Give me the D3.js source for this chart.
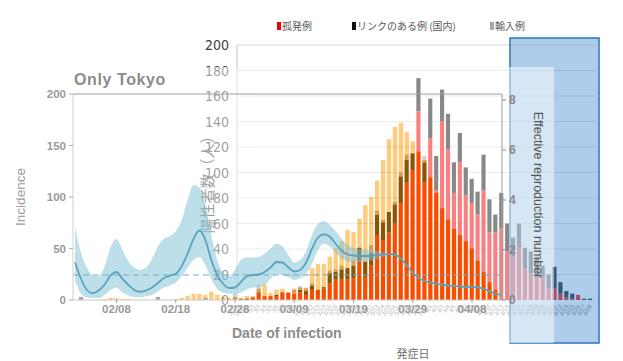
<!DOCTYPE html>
<html><head><meta charset="utf-8">
<script src="https://cdn.jsdelivr.net/npm/d3@7"></script>
<style>body{margin:0;background:#fff}svg{display:block}</style>
</head><body>
<svg id="c" width="623" height="361"></svg>
<script>
// ---------- Japan chart (発症日別 陽性者数) ----------
const jpDates = ["2/28","2/29","3/1","3/2","3/3","3/4","3/5","3/6","3/7","3/8","3/9","3/10","3/11","3/12","3/13","3/14","3/15","3/16","3/17","3/18","3/19","3/20","3/21","3/22","3/23","3/24","3/25","3/26","3/27","3/28","3/29","3/30","3/31","4/1","4/2","4/3","4/4","4/5","4/6","4/7","4/8","4/9","4/10","4/11","4/12","4/13","4/14","4/15","4/16","4/17","4/18","4/19","4/20","4/21","4/22","4/23","4/24","4/25","4/26","4/27","4/28"];
const jpSporadic = [0,1,0,2,5,3,3,3,6,6, 5,6,4,8,8,9,13,16,16,16, 17,31,18,27,51,47,53,60,76,92, 102,148,92,127,86,140,118,84,108,82, 76,67,86,53,53,56,38,34,41,25, 21,18,18,9,9,5,2,1,4,0, 0];
const jpLinked   = [0,0,1,0,1,0,0,1,0,0, 0,2,3,3,0,1,8,6,8,9, 10,10,12,10,16,14,16,15,21,18, 13,26,16,31,27,25,28,24,23,22, 19,18,28,26,14,28,22,15,19,16, 17,16,9,11,17,9,5,4,0,1, 1];
const jpImported = [5,0,0,0,6,0,0,0,0,0, 3,3,2,2,0,0,2,2,3,0, 4,0,0,6,3,2,0,2,3,4, 0,0,5,0,0,0,0,0,0,0, 0,0,0,0,0,0,0,0,0,0, 0,0,0,0,0,0,0,0,0,0, 0];
const jpYTicks = [0,20,40,60,80,100,120,140,160,180,200];
const jpLegend = ["孤発例","リンクのある例 (国内)","輸入例"];
const jpColors = ["#f20000","#111111","#a6a6a6"];

// ---------- Tokyo chart ----------
const tkDates = ["02/01","02/02","02/03","02/04","02/05","02/06","02/07","02/08","02/09","02/10","02/11","02/12","02/13","02/14","02/15","02/16","02/17","02/18","02/19","02/20","02/21","02/22","02/23","02/24","02/25","02/26","02/27","02/28","02/29","03/01","03/02","03/03","03/04","03/05","03/06","03/07","03/08","03/09","03/10","03/11","03/12","03/13","03/14","03/15","03/16","03/17","03/18","03/19","03/20","03/21","03/22","03/23","03/24","03/25","03/26","03/27","03/28","03/29","03/30","03/31","04/01","04/02","04/03","04/04","04/05","04/06","04/07","04/08","04/09","04/10","04/11","04/12","04/13"];
const tkIncidence = [0,0,0,0,0,1,2,2,1,1, 0,0,0,0,0,0,0,1,2,4, 6,6,5,8,5,3,2,3,2,4, 4,11,15,7,10,11,7,11,12,12, 31,35,35,42,50,57,68,66,79,92, 100,116,136,156,168,172,163,154,144,136, 119,104,89,78,69,63,57,50,38,27, 17,10,0];
const tkOther = [0,3,0,0,0,0,0,0,0,0, 0,0,0,0,3,0,0,0,0,0, 0,0,2,0,0,0,0,0,0,0, 0,0,0,0,0,0,0,0,0,0, 0,0,0,0,0,0,0,0,0,0, 0,0,0,0,0,0,0,0,0,0, 0,0,0,0,0,0,0,0,0,0, 0,0,0];
const tkR = [1.5,0.85,0.4,0.27,0.38,0.62,0.98,1.12,0.85,0.6, 0.4,0.33,0.38,0.5,0.68,0.88,0.97,1.05,1.35,1.85, 2.45,2.78,2.4,1.6,1.0,0.65,0.48,0.5,0.72,0.95, 1.0,1.02,1.12,1.3,1.52,1.5,1.3,1.14,1.2,1.5, 2.05,2.5,2.63,2.53,2.25,1.97,1.82,1.78,1.76,1.76, 1.77,1.8,1.82,1.84,1.82,1.65,1.38,1.1,0.88,0.76, 0.69,0.65,0.61,0.58,0.56,0.54,0.53,0.53,0.51,0.45, 0.34,0.25,0.2];
const tkRLow = [0.8,0.25,0.1,0.08,0.08,0.2,0.4,0.5,0.3,0.18, 0.12,0.1,0.15,0.2,0.35,0.5,0.58,0.7,0.95,1.3, 1.6,1.72,1.4,0.85,0.45,0.3,0.25,0.25,0.3,0.42, 0.5,0.52,0.6,0.85,1.05,1.0,0.92,0.8,0.87,1.05, 1.45,2.0,2.25,2.15,1.9,1.65,1.55,1.52,1.52,1.53, 1.58,1.65,1.74,1.8,1.79,1.62,1.35,1.07,0.85,0.73, 0.66,0.62,0.58,0.55,0.53,0.51,0.5,0.5,0.48,0.42, 0.31,0.22,0.17];
const tkRHigh = [2.9,1.9,1.3,1.0,0.95,1.35,2.1,2.45,2.0,1.55, 1.3,1.2,1.3,1.65,2.15,2.45,2.55,2.75,3.2,4.0, 4.6,4.5,3.8,2.6,1.6,1.1,0.95,1.2,1.6,1.7, 1.7,1.72,1.85,2.05,2.25,2.15,1.8,1.5,1.6,1.95, 2.6,3.05,3.16,3.0,2.75,2.45,2.2,2.08,2.05,2.0, 1.98,1.95,1.9,1.88,1.85,1.68,1.41,1.13,0.91,0.79, 0.72,0.68,0.64,0.61,0.59,0.57,0.56,0.56,0.54,0.48, 0.37,0.28,0.23];
const tkXTicks = ["02/08","02/18","02/28","03/09","03/19","03/29","04/08"];
const tkYTicks = [0,50,100,150,200];
const tkRTicks = [0,2,4,6,8];

// ---------- drawing ----------
const svg = d3.select("#c");
const parse = s => d3.utcParse("%Y/%m/%d")("2020/" + s);
const narrow = "'Liberation Sans Narrow','Arial Narrow','DejaVu Sans Condensed',sans-serif";
const cjk = "'Noto Sans CJK JP','Noto Sans CJK SC',sans-serif";
const sans = "'Liberation Sans',Arial,sans-serif";

const xJ = d3.scaleBand().domain(jpDates).range([232.04, 592.96]).paddingInner(0.3).paddingOuter(0.15);
const yJ = d3.scaleLinear().domain([0,200]).range([300,45]);
const xT = d3.scaleUtc().domain([parse("02/28"), parse("04/08")]).range([235,472]);
const yT = d3.scaleLinear().domain([0,200]).range([300,94]);
const yR = d3.scaleLinear().domain([0,8]).range([300,100]);

// Layer 1: Japan chart
const gJ = svg.append("g");
gJ.selectAll("line.grid").data(jpYTicks.slice(1)).join("line")
  .attr("x1",237).attr("x2",597).attr("y1",d=>yJ(d)).attr("y2",d=>yJ(d))
  .attr("stroke","#d9d9d9").attr("stroke-width",1);
gJ.append("line").attr("x1",237).attr("x2",237).attr("y1",yJ(200)).attr("y2",yJ(0)).attr("stroke","#bfbfbf");
gJ.selectAll("text.yl").data(jpYTicks).join("text")
  .attr("x",229).attr("y",d=>yJ(d)+5).attr("text-anchor","end")
  .attr("font-family",narrow).attr("font-stretch","condensed").attr("font-size",14).attr("fill","#404040")
  .text(d=>d);
gJ.append("text").attr("transform","translate(213,181) rotate(-90)").attr("text-anchor","middle")
  .attr("font-family",cjk).attr("font-size",15).attr("fill","#404040").text("陽性者数（人）");

const jpRows = jpDates.map((d,i)=>({d, s:jpSporadic[i], l:jpLinked[i], m:jpImported[i]}));
const stack = d3.stack().keys(["s","l","m"])(jpRows);
gJ.selectAll("g.ser").data(stack).join("g").attr("fill",(d,i)=>jpColors[i])
  .selectAll("rect").data(d=>d).join("rect")
  .attr("x",d=>xJ(d.data.d)).attr("width",xJ.bandwidth())
  .attr("y",d=>yJ(d[1])).attr("height",d=>yJ(d[0])-yJ(d[1]));

// rotated date labels
gJ.selectAll("text.xl").data(jpDates).join("text")
  .attr("transform",d=>`translate(${xJ(d)+xJ.bandwidth()/2+2},306) rotate(-62)`)
  .attr("text-anchor","end").attr("font-family",sans).attr("font-size",6).attr("fill","#707070")
  .text(d=>d);

// legend
const legX = [277, 352, 490];
jpLegend.forEach((t,i)=>{
  gJ.append("rect").attr("x",legX[i]).attr("y",22).attr("width",4).attr("height",8).attr("fill",jpColors[i]);
  gJ.append("text").attr("x",legX[i]+5).attr("y",30).attr("font-family",cjk).attr("font-size",10)
    .attr("fill","#595959").text(t);
});
gJ.append("text").attr("x",413).attr("y",358).attr("text-anchor","middle").attr("font-family",cjk)
  .attr("font-size",11).attr("fill","#6b6b6b").text("発症日");

// Layer 2: blue box
svg.append("rect").attr("x",510).attr("y",38).attr("width",89).attr("height",305)
  .attr("fill","#5b9bd5").attr("fill-opacity",0.5).attr("stroke","#2e75b6").attr("stroke-width",1.5);

// Layer 3: Tokyo chart (semi transparent image)
const gT = svg.append("g").attr("opacity",0.5);
gT.append("rect").attr("x",0).attr("y",67).attr("width",554).attr("height",276).attr("fill","#fff");
const bw = 4.4;
gT.selectAll("rect.tb").data(tkDates).join("rect")
  .attr("x",d=>xT(parse(d))-bw/2).attr("width",bw)
  .attr("y",(d,i)=>yT(tkIncidence[i])).attr("height",(d,i)=>yT(0)-yT(tkIncidence[i]))
  .attr("fill","#ff9a00");
gT.selectAll("rect.to").data(tkDates).join("rect")
  .attr("x",d=>xT(parse(d))-bw/2).attr("width",bw)
  .attr("y",(d,i)=>yT(tkOther[i])).attr("height",(d,i)=>yT(0)-yT(tkOther[i]))
  .attr("fill","#555");

const gT2 = svg.append("g");
const pts = tkDates.map((d,i)=>({x:xT(parse(d)), r:tkR[i], lo:tkRLow[i], hi:tkRHigh[i]}));
gT2.append("path").datum(pts)
  .attr("d", d3.area().x(d=>d.x).y0(d=>yR(d.lo)).y1(d=>yR(d.hi)).curve(d3.curveMonotoneX))
  .attr("fill","#7cc0d6").attr("fill-opacity",0.5);
gT2.append("line").attr("x1",73).attr("x2",502).attr("y1",yR(1)).attr("y2",yR(1))
  .attr("stroke","#6cb2c8").attr("stroke-width",1.2).attr("stroke-dasharray","6,4");
gT2.append("path").datum(pts)
  .attr("d", d3.line().x(d=>d.x).y(d=>yR(d.r)).curve(d3.curveMonotoneX))
  .attr("fill","none").attr("stroke","#5aa3bd").attr("stroke-width",1.8);

// Tokyo axes / frame
gT2.append("line").attr("x1",73).attr("x2",73).attr("y1",yT(200)).attr("y2",yT(0)).attr("stroke","#d0d0d0");
gT2.append("line").attr("x1",73).attr("x2",502).attr("y1",yT(0)).attr("y2",yT(0)).attr("stroke","#c8c8c8");
gT2.append("line").attr("x1",73).attr("x2",502).attr("y1",yT(200)).attr("y2",yT(200)).attr("stroke","#a0a0a0");
gT2.append("line").attr("x1",502).attr("x2",502).attr("y1",yT(200)).attr("y2",yT(0)).attr("stroke","#a0a0a0");

gT2.selectAll("line.tyt").data(tkYTicks).join("line")
  .attr("x1",69).attr("x2",73).attr("y1",d=>yT(d)).attr("y2",d=>yT(d)).attr("stroke","#b0b0b0");
gT2.selectAll("text.tyl").data(tkYTicks).join("text")
  .attr("x",66).attr("y",d=>yT(d)+4).attr("text-anchor","end")
  .attr("font-family",sans).attr("font-weight","bold").attr("font-size",11.5).attr("fill","#9a9a9a").text(d=>d);

gT2.selectAll("line.txt").data(tkXTicks).join("line")
  .attr("x1",d=>xT(parse(d))).attr("x2",d=>xT(parse(d))).attr("y1",300).attr("y2",303).attr("stroke","#a0a0a0");
gT2.selectAll("text.txl").data(tkXTicks).join("text")
  .attr("x",d=>xT(parse(d))).attr("y",313).attr("text-anchor","middle")
  .attr("font-family",sans).attr("font-weight","bold").attr("font-size",11.5).attr("fill","#999").text(d=>d);

gT2.selectAll("line.trt").data(tkRTicks).join("line")
  .attr("x1",502).attr("x2",506).attr("y1",d=>yR(d)).attr("y2",d=>yR(d)).attr("stroke","#888");
gT2.selectAll("text.trl").data(tkRTicks).join("text")
  .attr("x",509).attr("y",d=>yR(d)+4)
  .attr("font-family",sans).attr("font-weight","bold").attr("font-size",12).attr("fill","#888").text(d=>d);

gT2.append("text").attr("transform","translate(534,195) rotate(90)").attr("text-anchor","middle")
  .attr("font-family",sans).attr("font-size",12.5).attr("fill","#555").text("Effective reproduction number");
gT2.append("text").attr("transform","translate(25,197) rotate(-90)").attr("text-anchor","middle")
  .attr("font-family",sans).attr("font-size",13.5).attr("fill","#999").text("Incidence");
gT2.append("text").attr("x",74).attr("y",85).attr("font-family",sans).attr("font-weight","bold")
  .attr("font-size",16).attr("letter-spacing",0.6).attr("fill","#8c8c8c").text("Only Tokyo");
gT2.append("text").attr("x",232).attr("y",338).attr("font-family",sans).attr("font-weight","bold")
  .attr("font-size",14).attr("fill","#8c8c8c").text("Date of infection");
</script>
</body></html>
